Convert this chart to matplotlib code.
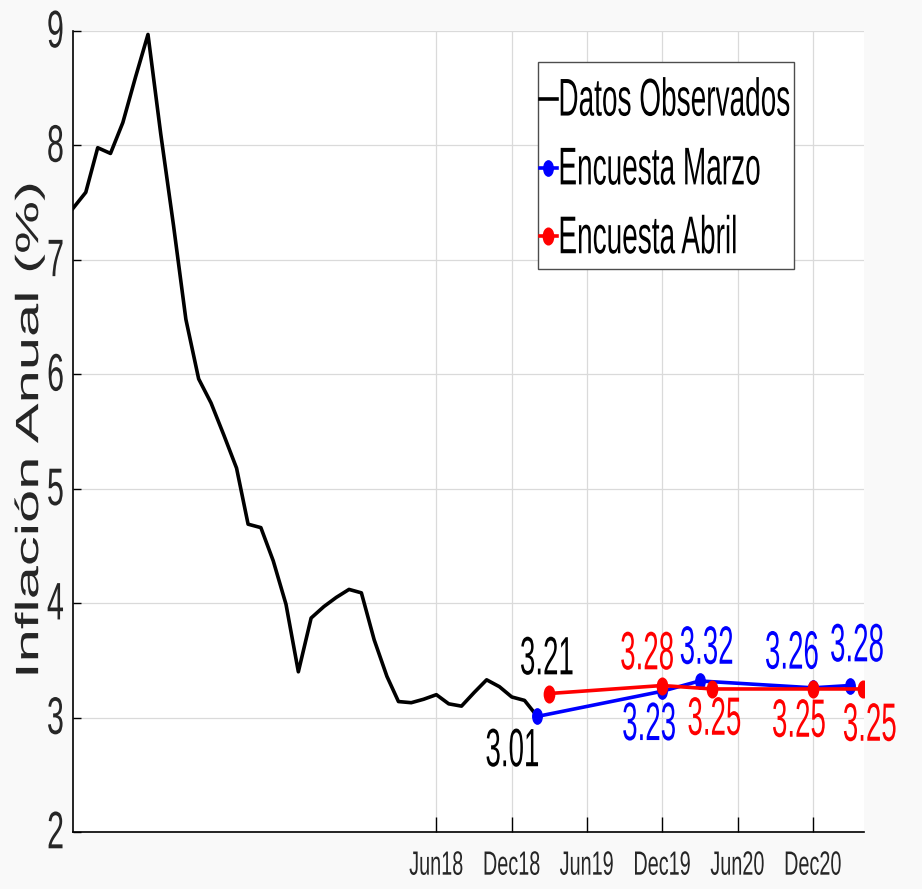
import matplotlib
matplotlib.use("Agg")
import matplotlib.pyplot as plt
import matplotlib.patheffects as pe
from matplotlib.transforms import Affine2D
from matplotlib.path import Path
from matplotlib.patches import Rectangle
import pandas as pd

# observed annual inflation, monthly from Jan 2016 to Feb 2019
obs_dates = pd.date_range("2016-01-01", periods=38, freq="MS")
obs_vals = [7.45, 7.59, 7.98, 7.93, 8.20, 8.60, 8.97, 8.10, 7.30, 6.48,
            5.96, 5.75, 5.47, 5.18, 4.69, 4.66, 4.37, 3.99, 3.40, 3.87,
            3.97, 4.05, 4.12, 4.09, 3.68, 3.36, 3.14, 3.13, 3.16, 3.20,
            3.12, 3.10, 3.22, 3.33, 3.27, 3.18, 3.15, 3.01]

# survey expectations
marzo_dates = pd.to_datetime(["2019-02-01", "2019-12-01", "2020-03-01", "2020-12-01", "2021-03-01"])
marzo_vals = [3.01, 3.23, 3.32, 3.26, 3.28]
abril_dates = pd.to_datetime(["2019-03-01", "2019-12-01", "2020-04-01", "2020-12-01", "2021-04-01"])
abril_vals = [3.21, 3.28, 3.25, 3.25, 3.25]

tick_dates = pd.to_datetime(["2018-06-01", "2018-12-01", "2019-06-01", "2019-12-01", "2020-06-01", "2020-12-01"])
tick_labels = ["Jun18", "Dec18", "Jun19", "Dec19", "Jun20", "Dec20"]

# point labels: (date, value, text, color) and label offsets in pixels
point_labels = [
    ("2019-03-01", 3.21, "3.21", "black"),
    ("2019-02-01", 3.01, "3.01", "black"),
    ("2019-12-01", 3.28, "3.28", "red"),
    ("2020-03-01", 3.32, "3.32", "blue"),
    ("2019-12-01", 3.23, "3.23", "blue"),
    ("2020-04-01", 3.25, "3.25", "red"),
    ("2020-12-01", 3.26, "3.26", "blue"),
    ("2020-12-01", 3.25, "3.25", "red"),
    ("2021-03-01", 3.28, "3.28", "blue"),
    ("2021-04-01", 3.25, "3.25", "red"),
]
label_offsets = [(-2, 34), (-25, -35), (-15, 31), (7, 32), (-13, -34),
                 (2, -31), (-21, 34), (-14, -33), (7, 39), (7, -37)]


class Stretch(pe.AbstractPathEffect):
    """the original's text is tall and narrow: scale glyphs about the text anchor"""
    def __init__(self, text, sx, sy):
        super().__init__()
        self.text = text
        self.sx = sx
        self.sy = sy

    def draw_path(self, renderer, gc, tpath, affine, rgbFace=None):
        bb = self.text.get_window_extent(renderer)
        ha = self.text.get_horizontalalignment()
        if self.text.get_rotation() != 0:
            ha = "center"
        x0 = {"left": bb.x0, "right": bb.x1}.get(ha, 0.5 * (bb.x0 + bb.x1))
        y0 = 0.5 * (bb.y0 + bb.y1)
        t = affine + Affine2D().translate(-x0, -y0).scale(self.sx, self.sy).translate(x0, y0)
        renderer.draw_path(gc, tpath, t, rgbFace)


def stretch(text, sx, sy):
    text.set_path_effects([Stretch(text, sx, sy)])


plt.rcParams["font.family"] = ["Liberation Sans", "DejaVu Sans"]
dot = Path.unit_circle().transformed(Affine2D().scale(0.62, 1.0))

fig = plt.figure(figsize=(9.22, 8.89), dpi=100, facecolor="#f9f9f9")
ax = fig.add_axes([73 / 922, 1 - 832 / 889, (864 - 73) / 922, (832 - 31) / 889])
ax.set_facecolor("white")

ax.plot(obs_dates, obs_vals, color="black", lw=2.6, label="Datos Observados", zorder=3)
ax.plot(marzo_dates, marzo_vals, color="blue", lw=2.6, marker=dot, ms=11,
        label="Encuesta Marzo", zorder=3)
ax.plot(abril_dates, abril_vals, color="red", lw=2.6, marker=dot, ms=12,
        label="Encuesta Abril", zorder=3)

for (d, v, s, c), (dx, dy) in zip(point_labels, label_offsets):
    a = ax.annotate(s, (pd.Timestamp(d), v), xytext=(dx, dy), textcoords="offset pixels",
                    ha="center", va="center", fontsize=21, color=c)
    stretch(a, 0.95, 1.85)

ax.set_xlim(pd.Timestamp("2016-01-01"), pd.Timestamp("2021-04-04"))
ax.set_ylim(2, 9)
ax.set_yticks(range(2, 10))
ax.set_xticks(tick_dates)
ax.set_xticklabels(tick_labels)

ax.grid(True, color="#dadada", lw=0.9)
ax.set_axisbelow(True)
ax.spines["top"].set_visible(False)
ax.spines["right"].set_visible(False)
for s in ["left", "bottom"]:
    ax.spines[s].set_linewidth(1.2)

ax.tick_params(axis="y", direction="in", length=6, width=1, pad=6.5,
               labelsize=20, labelcolor="#262626")
ax.tick_params(axis="x", direction="in", length=11, width=1, pad=19,
               labelsize=14, labelcolor="#262626")
for lbl in ax.get_yticklabels():
    stretch(lbl, 1.1, 1.9)
for lbl in ax.get_xticklabels():
    stretch(lbl, 1.02, 1.73)

ylab = fig.text(30 / 922, 1 - 430 / 889, "Inflación Anual (%)", rotation=90,
                ha="center", va="center", fontsize=20, color="#262626")
stretch(ylab, 1.16, 2.15)

# legend box drawn separately, since the texts are stretched
ax.add_patch(Rectangle((538 / 922, 1 - 269 / 889), (794 - 538) / 922, (269 - 62) / 889,
                       transform=fig.transFigure, facecolor="white",
                       edgecolor="#4d4d4d", lw=1.0, zorder=4.5, clip_on=False))
leg = ax.legend(loc="upper left", bbox_to_anchor=(540 / 922, 1 - 87 / 889),
                bbox_transform=fig.transFigure, frameon=False, fontsize=21,
                handlelength=0.58, handletextpad=0.05, labelspacing=1.4,
                borderpad=0, borderaxespad=0)
leg.set_zorder(5)
for t in leg.get_texts():
    stretch(t, 0.96, 1.82)

fig.savefig("out.png", dpi=100, facecolor=fig.get_facecolor())
